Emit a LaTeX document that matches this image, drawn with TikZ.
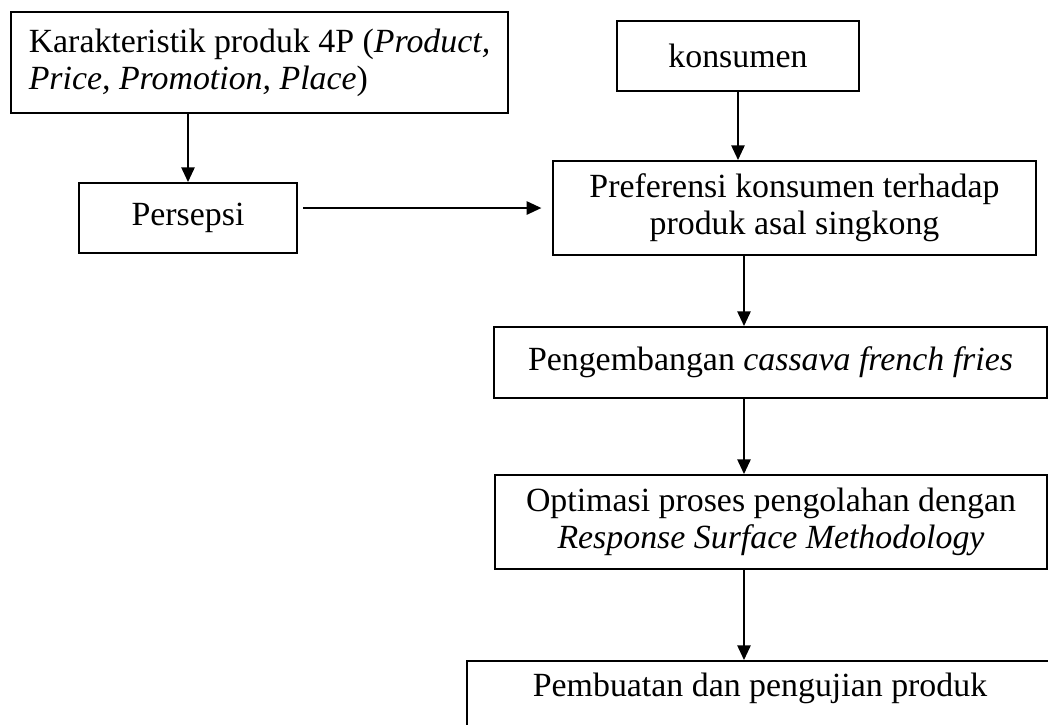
\documentclass[tikz,border=0pt]{standalone}
\usepackage{fontspec}
\setmainfont{Liberation Serif}
\usetikzlibrary{arrows.meta,positioning}

\begin{document}
\begin{tikzpicture}[
      x=0.375pt, y=-0.375pt,
      every node/.style={font=\fontsize{12.7}{13.9}\selectfont},
      box/.style={draw, line width=0.75pt, align=center, inner sep=0pt},
      sz/.style 2 args={minimum width=#1*0.375pt, minimum height=#2*0.375pt},
      >={Triangle[length=5.5pt,width=5pt]}
    ]
    \useasboundingbox (0,0) rectangle (1048,724);
    % KOTAK
    \node[box, sz={497}{101}, align=left] (karakt) at (259.5,62.5) {Karakteristik produk 4P (\textit{Product,}\\\textit{Price, Promotion, Place})};
    \node[box, sz={242}{70}] (konsumen) at (738,56) {konsumen};
    \node[box, sz={218}{70}] (persepsi) at (188,218) {Persepsi};
    \node[box, sz={483}{94}] (pref) at (794.5,208) {Preferensi konsumen terhadap\\produk asal singkong};
    \node[box, sz={553}{71}] (kembang) at (770.5,362.5) {Pengembangan \textit{cassava french fries}};
    \node[box, sz={552}{94}] (optimasi) at (771,522) {Optimasi proses pengolahan dengan\\\textit{Response Surface Methodology}};
    \node[box, anchor=north, minimum width=586*0.375pt, inner ysep=4.5pt, text depth=30pt] (buat) at (760,660) {Pembuatan dan pengujian produk};
    \coordinate (poros) at (744,0);

    % PANAH
    \draw[->, line width=0.6pt] (karakt.south -| persepsi.north) -- (persepsi.north);
    \draw[->, line width=0.6pt] (konsumen.south) -- (konsumen.south |- pref.north);
    \draw[->, line width=0.6pt, shorten <=2pt, shorten >=4pt] (persepsi.east |- pref.west) -- (pref.west);
    \draw[->, line width=0.6pt] (pref.south -| poros) -- (kembang.north -| poros);
    \draw[->, line width=0.6pt] (kembang.south -| poros) -- (optimasi.north -| poros);
    \draw[->, line width=0.6pt] (optimasi.south -| poros) -- (buat.north -| poros);
  \end{tikzpicture}
\end{document}
